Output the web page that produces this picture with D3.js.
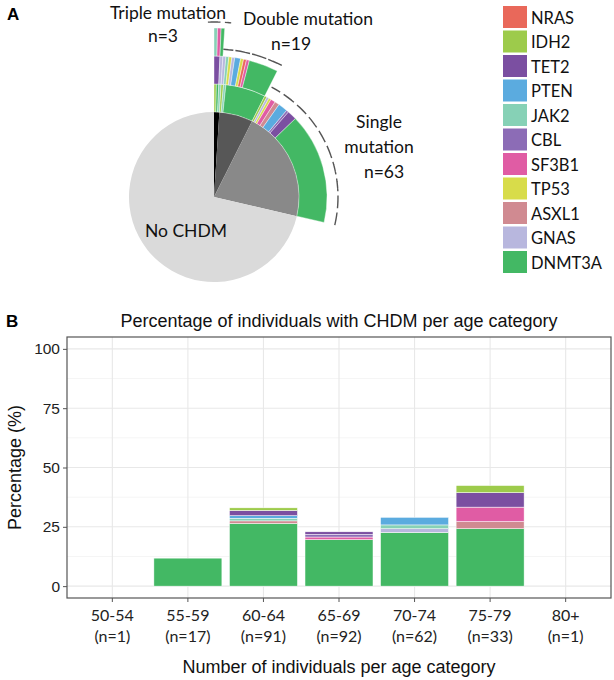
<!DOCTYPE html>
<html><head><meta charset="utf-8">
<script src="https://cdn.jsdelivr.net/npm/d3@7"></script>
<style>body{margin:0;background:#fff}</style>
</head><body>
<svg id="c" width="614" height="680"></svg>
<script>
// ---------------- DATA ----------------
const genes = ["NRAS","IDH2","TET2","PTEN","JAK2","CBL","SF3B1","TP53","ASXL1","GNAS","DNMT3A"];
const geneColors = ["#E9685A","#9DCB4B","#7B4FA1","#5BABDF","#86D1B6","#8C6CB6","#E05CA4","#D8DC4A","#D08A91","#B8B7DE","#43B864"];

// Panel A: inner pie (individuals)
const groupNames = ["Triple mutation","Double mutation","Single mutation","No CHDM"];
const groupCounts = [3, 19, 63, 212];
const groupColors = ["#000000","#575757","#898989","#DADADA"];

// Panel A: outer rings, run-length encoded [gene, number of individuals]
const tripleRing1 = [["IDH2",1],["DNMT3A",1],["JAK2",1]];
const tripleRing2 = [["TET2",2],["GNAS",1]];
const tripleRing3 = [["JAK2",1],["SF3B1",1],["DNMT3A",1]];
const doubleRing1 = [["IDH2",1],["JAK2",1],["DNMT3A",17]];
const doubleRing2 = [["GNAS",1],["JAK2",1],["TP53",1],["GNAS",1],["PTEN",2],["TP53",1],["NRAS",1],["SF3B1",1],["DNMT3A",10]];
const singleRing1 = [["IDH2",1],["GNAS",1],["TP53",1],["SF3B1",2],["ASXL1",2],["PTEN",4],["CBL",1],["TET2",4],["DNMT3A",47]];

// Panel B: stacked bars (percentage of individuals)
const ageCats = ["50-54","55-59","60-64","65-69","70-74","75-79","80+"];
const ageN = [1, 17, 91, 92, 62, 33, 1];
const pctDNMT3A = [0, 11.8, 26.4, 19.6, 22.6, 24.2, 0];
const pctGNAS   = [0, 0, 0, 0, 1.6, 0, 0];
const pctASXL1  = [0, 0, 1.1, 0, 0, 3.0, 0];
const pctTP53   = [0, 0, 0, 0, 0, 0, 0];
const pctSF3B1  = [0, 0, 0, 1.1, 0, 6.1, 0];
const pctCBL    = [0, 0, 0, 1.1, 0, 0, 0];
const pctJAK2   = [0, 0, 1.1, 0, 1.6, 0, 0];
const pctPTEN   = [0, 0, 1.1, 0, 3.2, 0, 0];
const pctTET2   = [0, 0, 2.2, 1.1, 0, 6.1, 0];
const pctIDH2   = [0, 0, 1.1, 0, 0, 3.0, 0];
const pctNRAS   = [0, 0, 0, 0, 0, 0, 0];
const yTicks = [0, 25, 50, 75, 100];

// ---------------- DRAW ----------------
const svg = d3.select("#c");
const color = d3.scaleOrdinal().domain(genes).range(geneColors);
const fontA = "Lato, 'Open Sans', sans-serif";
const fontB = "'Liberation Sans', Arial, sans-serif";

// Panel label A
svg.append("text").attr("x", 7).attr("y", 20).attr("font-family", fontB)
  .attr("font-weight", "bold").attr("font-size", 17).text("A");

const cx = 214, cy = 197, r0 = 85, rw = 28;
const gA = svg.append("g").attr("transform", `translate(${cx},${cy})`);
const total = d3.sum(groupCounts);
const ang = d3.scaleLinear().domain([0, total]).range([0, 2 * Math.PI]);

const pie = d3.pie().sort(null).value(d => d)(groupCounts);
gA.selectAll("path.inner").data(pie).join("path")
  .attr("d", d3.arc().innerRadius(0).outerRadius(r0))
  .attr("fill", (d, i) => groupColors[i]);

function ring(data, startIdx, level) {
  let pos = startIdx;
  const segs = data.map(([g, n]) => { const s = { g, a0: ang(pos), a1: ang(pos + n) }; pos += n; return s; });
  const arc = d3.arc().innerRadius(r0 + rw * (level - 1)).outerRadius(r0 + rw * level);
  gA.append("g").selectAll("path").data(segs).join("path")
    .attr("d", d => arc({ startAngle: d.a0, endAngle: d.a1 }))
    .attr("fill", d => color(d.g)).attr("stroke", "#fff").attr("stroke-width", 0.4);
}
const startTriple = 0, startDouble = groupCounts[0], startSingle = groupCounts[0] + groupCounts[1];
ring(tripleRing1, startTriple, 1);
ring(tripleRing2, startTriple, 2);
ring(tripleRing3, startTriple, 3);
ring(doubleRing1, startDouble, 1);
ring(doubleRing2, startDouble, 2);
ring(singleRing1, startSingle, 1);

// dashed brackets
const deg = Math.PI / 180;
function dashArc(r, a0, a1) {
  gA.append("path").attr("d", d3.arc().innerRadius(r).outerRadius(r)({ startAngle: a0, endAngle: a1 }))
    .attr("fill", "none").attr("stroke", "#555").attr("stroke-width", 1.4).attr("stroke-dasharray", "10,7");
}
dashArc(r0 + rw * 3 + 6, ang(startTriple) - 2 * deg, ang(startDouble) + 2 * deg);
dashArc(r0 + rw * 2 + 7, ang(startDouble), ang(startSingle) + 1 * deg);
dashArc(r0 + rw + 11, ang(startSingle) + 1 * deg, ang(startSingle + groupCounts[2]) + 1 * deg);

// labels A
const tA = (x, y, s, anchor = "middle") => svg.append("text").attr("x", x).attr("y", y)
  .attr("font-family", fontA).attr("font-size", 17.5).attr("text-anchor", anchor).attr("fill", "#111").text(s);
tA(168, 19, "Triple mutation"); tA(163, 42, "n=3");
tA(308, 25, "Double mutation"); tA(291, 50, "n=19");
tA(379, 128, "Single"); tA(379, 153, "mutation"); tA(384, 178, "n=63");
tA(186, 237, "No CHDM");

// legend
const lg = svg.append("g").attr("transform", "translate(503,6)");
const li = lg.selectAll("g").data(genes).join("g").attr("transform", (d, i) => `translate(0,${i * 24.5})`);
li.append("rect").attr("width", 24).attr("height", 22).attr("fill", d => color(d));
li.append("text").attr("x", 28).attr("y", 17.5).attr("font-family", fontA).attr("font-size", 16.5).attr("fill", "#111").text(d => d);

// ---------------- Panel B ----------------
const L = 67, R = 611, T = 337, B = 598;
svg.append("text").attr("x", 6).attr("y", 327).attr("font-family", fontB)
  .attr("font-weight", "bold").attr("font-size", 17).text("B");
svg.append("text").attr("x", (L + R) / 2).attr("y", 327).attr("text-anchor", "middle")
  .attr("font-family", fontB).attr("font-size", 18).attr("fill", "#111").text("Percentage of individuals with CHDM per age category");

const x = d3.scaleBand().domain(ageCats).range([L, R]).paddingInner(0.1).paddingOuter(0.15);
const y = d3.scaleLinear().domain([-5, 105]).range([B, T]);

// grid
const gG = svg.append("g");
[12.5, 37.5, 62.5, 87.5].forEach(v => gG.append("line").attr("x1", L).attr("x2", R).attr("y1", y(v)).attr("y2", y(v)).attr("stroke", "#F3F3F3").attr("stroke-width", 0.8));
yTicks.forEach(v => gG.append("line").attr("x1", L).attr("x2", R).attr("y1", y(v)).attr("y2", y(v)).attr("stroke", "#E8E8E8").attr("stroke-width", 1.1));
ageCats.forEach(c => gG.append("line").attr("x1", x(c) + x.bandwidth() / 2).attr("x2", x(c) + x.bandwidth() / 2).attr("y1", T).attr("y2", B).attr("stroke", "#E8E8E8").attr("stroke-width", 1.1));

// stacked bars (bottom -> top)
const stackKeys = ["DNMT3A","GNAS","ASXL1","TP53","SF3B1","CBL","JAK2","PTEN","TET2","IDH2","NRAS"];
const pctByGene = { DNMT3A: pctDNMT3A, GNAS: pctGNAS, ASXL1: pctASXL1, TP53: pctTP53, SF3B1: pctSF3B1, CBL: pctCBL, JAK2: pctJAK2, PTEN: pctPTEN, TET2: pctTET2, IDH2: pctIDH2, NRAS: pctNRAS };
const rows = ageCats.map((c, i) => { const o = { cat: c }; stackKeys.forEach(k => o[k] = pctByGene[k][i]); return o; });
const series = d3.stack().keys(stackKeys)(rows);
svg.append("g").selectAll("g").data(series).join("g").attr("fill", d => color(d.key))
  .selectAll("rect").data(d => d.filter(p => p[1] - p[0] > 0)).join("rect")
  .attr("x", d => x(d.data.cat)).attr("width", x.bandwidth())
  .attr("y", d => y(d[1])).attr("height", d => y(d[0]) - y(d[1]))
  .attr("stroke", "#fff").attr("stroke-width", 0.5);

// border
svg.append("rect").attr("x", L).attr("y", T).attr("width", R - L).attr("height", B - T)
  .attr("fill", "none").attr("stroke", "#555").attr("stroke-width", 1.2);

// axes
const yAx = svg.append("g").attr("transform", `translate(${L},0)`)
  .call(d3.axisLeft(y).tickValues(yTicks).tickSize(4).tickPadding(3));
yAx.select(".domain").remove();
yAx.selectAll("line").attr("stroke", "#555");
yAx.selectAll("text").attr("font-family", fontB).attr("font-size", 15.5).attr("fill", "#222");

const xAx = svg.append("g").attr("transform", `translate(0,${B})`)
  .call(d3.axisBottom(x).tickSize(4).tickFormat(""));
xAx.select(".domain").remove();
xAx.selectAll("line").attr("stroke", "#555");
const xl = svg.append("g").selectAll("text").data(ageCats).join("text")
  .attr("x", d => x(d) + x.bandwidth() / 2).attr("text-anchor", "middle")
  .attr("font-family", fontA).attr("font-size", 16).attr("fill", "#222");
xl.append("tspan").attr("x", d => x(d) + x.bandwidth() / 2).attr("y", 621).text(d => d);
xl.append("tspan").attr("x", d => x(d) + x.bandwidth() / 2).attr("y", 642).text((d, i) => `(n=${ageN[i]})`);

svg.append("text").attr("x", (L + R) / 2).attr("y", 673).attr("text-anchor", "middle")
  .attr("font-family", fontB).attr("font-size", 18).attr("fill", "#111").text("Number of individuals per age category");
svg.append("text").attr("transform", `translate(21,${(T + B) / 2}) rotate(-90)`).attr("text-anchor", "middle")
  .attr("font-family", fontB).attr("font-size", 18).attr("fill", "#111").text("Percentage (%)");
</script>
</body></html>
